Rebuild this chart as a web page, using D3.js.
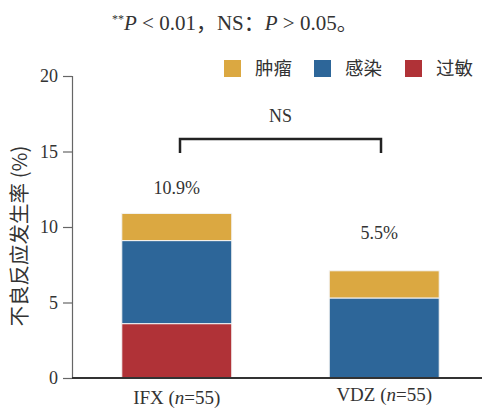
<!DOCTYPE html>
<html>
<head>
<meta charset="utf-8">
<script src="https://cdn.jsdelivr.net/npm/d3@7"></script>
<style>
  body { margin: 0; background: #fff; }
  svg text { font-family: "Liberation Serif", "Noto Sans CJK SC", serif; fill: #333; }
  .cjk { font-family: "Noto Sans CJK SC", sans-serif !important; }
</style>
</head>
<body>
<script>
// data
const groups = ['IFX', 'VDZ'];
const seriesNames = ['过敏', '感染', '肿瘤'];
const allergy = [3.6, 0];
const infection = [5.5, 5.3];
const tumor = [1.8, 1.8];
const totalLabels = ['10.9%', '5.5%'];
const yTicks = [0, 5, 10, 15, 20];
const legendOrder = ['肿瘤', '感染', '过敏'];
const colors = { '过敏': '#b03237', '感染': '#2d6699', '肿瘤': '#dba841' };

const width = 482, height = 410;
const svg = d3.select('body').append('svg')
  .attr('width', width).attr('height', height);

const x = d3.scaleBand().domain(groups).range([72, 489])
  .paddingInner(0.47).paddingOuter(0.24);
const y = d3.scaleLinear().domain([0, 20]).range([378, 76]);

// stack the series
const rows = groups.map((g, i) => ({ group: g, '过敏': allergy[i], '感染': infection[i], '肿瘤': tumor[i] }));
const stacked = d3.stack().keys(seriesNames)(rows);

svg.append('g').selectAll('g')
  .data(stacked).join('g')
  .attr('fill', (d) => colors[d.key])
  .selectAll('rect')
  .data((d) => d.filter((v) => v[1] - v[0] > 0))
  .join('rect')
  .attr('x', (d) => x(d.data.group))
  .attr('width', x.bandwidth())
  .attr('y', (d) => y(d[1]))
  .attr('height', (d) => y(d[0]) - y(d[1]))
  .attr('stroke', '#f4f4f4')
  .attr('stroke-width', 1);

// y axis
const yAxis = svg.append('g')
  .attr('transform', 'translate(72,0)')
  .call(d3.axisLeft(y).tickValues(yTicks).tickSize(9).tickPadding(5));
yAxis.select('.domain').attr('stroke', '#666').attr('stroke-width', 1.2);
yAxis.selectAll('.tick line').attr('stroke', '#666').attr('stroke-width', 1.2);
yAxis.selectAll('.tick text')
  .style('font-family', '"Liberation Serif", serif')
  .style('font-size', '18px').attr('fill', '#333');

// baseline
svg.append('line')
  .attr('x1', 72).attr('x2', 482)
  .attr('y1', y(0)).attr('y2', y(0))
  .attr('stroke', '#333').attr('stroke-width', 2);

// x labels
const xl = svg.append('g').selectAll('text')
  .data(groups).join('text')
  .attr('x', (d) => x(d) + x.bandwidth() / 2)
  .attr('y', (d, i) => i === 0 ? 404 : 401)
  .attr('text-anchor', 'middle')
  .style('font-size', '19px');
xl.append('tspan').text((d) => d + ' (');
xl.append('tspan').attr('font-style', 'italic').text('n');
xl.append('tspan').text('=55)');

// y label
svg.append('text')
  .attr('class', 'cjk')
  .attr('transform', 'translate(27,236) rotate(-90)')
  .attr('text-anchor', 'middle')
  .attr('fill', '#555')
  .style('font-size', '20.5px')
  .text('不良反应发生率 (%)');

// total labels
svg.append('g').selectAll('text')
  .data(groups).join('text')
  .attr('x', (d) => x(d) + x.bandwidth() / 2 + (d === 'VDZ' ? -5 : 0))
  .attr('y', (d, i) => i === 0 ? 194 : 239)
  .attr('text-anchor', 'middle')
  .style('font-size', '18px')
  .text((d, i) => totalLabels[i]);

// significance bracket
const bx1 = 180, bx2 = 381, by = 139;
svg.append('path')
  .attr('d', `M${bx1},${by + 14}V${by}H${bx2}V${by + 14}`)
  .attr('fill', 'none').attr('stroke', '#222').attr('stroke-width', 2.5);
svg.append('text')
  .attr('x', (bx1 + bx2) / 2).attr('y', 122)
  .attr('text-anchor', 'middle')
  .style('font-size', '18px')
  .text('NS');

// legend
const lg = svg.append('g').selectAll('g')
  .data(legendOrder).join('g')
  .attr('transform', (d, i) => `translate(${[224, 314, 405][i]},60)`);
lg.append('rect').attr('width', 17).attr('height', 17)
  .attr('fill', (d) => colors[d]);
lg.append('text').attr('class', 'cjk')
  .attr('x', 31).attr('y', 15)
  .attr('fill', '#444')
  .style('font-size', '18.5px')
  .text((d) => d);

// note at top
const note = svg.append('text')
  .attr('x', 112).attr('y', 30)
  .style('font-size', '21px')
  .attr('fill', '#222');
note.append('tspan').attr('dy', -7).style('font-size', '12px').text('**');
note.append('tspan').attr('dy', 7).attr('font-style', 'italic').text('P');
note.append('tspan').text(' < 0.01');
note.append('tspan').attr('class', 'cjk').text('，');
note.append('tspan').text('NS');
note.append('tspan').attr('class', 'cjk').text('：');
note.append('tspan').attr('font-style', 'italic').text('P');
note.append('tspan').text(' > 0.05');
note.append('tspan').attr('class', 'cjk').text('。');
</script>
</body>
</html>
